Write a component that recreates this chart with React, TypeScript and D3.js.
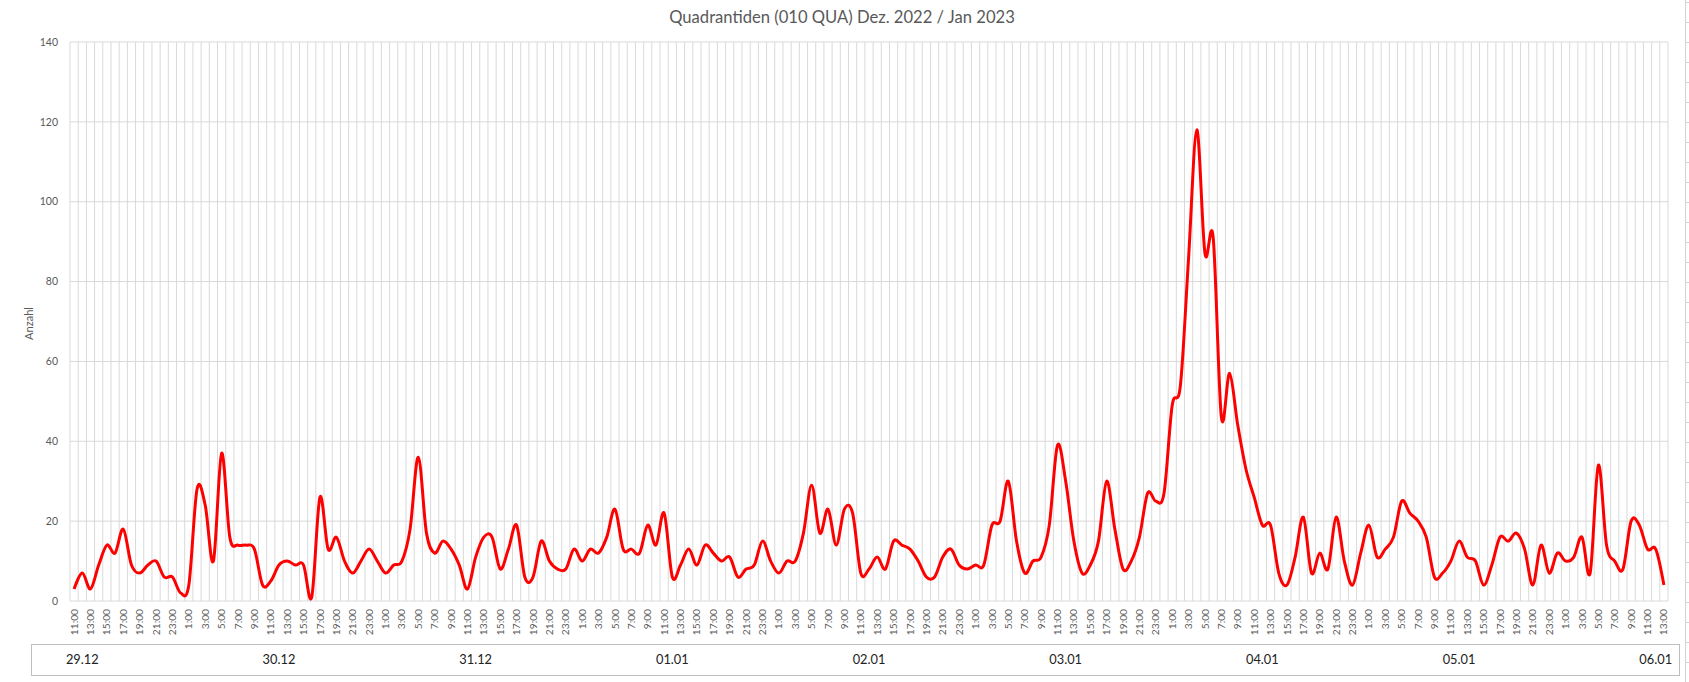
import React from "react";
import * as d3 from "d3";

// ---- data ----
const title = "Quadrantiden (010 QUA) Dez. 2022 / Jan 2023";
const yTitle = "Anzahl";
const startHour = 11; // first category: 29.12 11:00
const dates = ["29.12", "30.12", "31.12", "01.01", "02.01", "03.01", "04.01", "05.01", "06.01"];
const counts = [
  3, 7, 3, 9, 14, 12, 18, 9, 7, 9,
  10, 6, 6, 2, 4, 28, 24, 10, 37, 16,
  14, 14, 13, 4, 5, 9, 10, 9, 9, 1,
  26, 13, 16, 10, 7, 10, 13, 10, 7, 9,
  10, 18, 36, 17, 12, 15, 13, 9, 3, 11,
  16, 16, 8, 13, 19, 6, 6, 15, 10, 8,
  8, 13, 10, 13, 12, 16, 23, 13, 13, 12,
  19, 14, 22, 6, 9, 13, 9, 14, 12, 10,
  11, 6, 8, 9, 15, 10, 7, 10, 10, 17,
  29, 17, 23, 14, 23, 22, 7, 8, 11, 8,
  15, 14, 13, 10, 6, 6, 11, 13, 9, 8,
  9, 9, 19, 20, 30, 15, 7, 10, 11, 19,
  39, 30, 15, 7, 9, 15, 30, 18, 8, 10,
  16, 27, 25, 27, 49, 54, 86, 118, 87, 91,
  46, 57, 44, 33, 26, 19, 19, 7, 4, 11,
  21, 7, 12, 8, 21, 10, 4, 12, 19, 11,
  13, 16, 25, 22, 20, 16, 6, 7, 10, 15,
  11, 10, 4, 9, 16, 15, 17, 13, 4, 14,
  7, 12, 10, 11, 16, 7, 34, 14, 10, 8,
  20, 19, 13, 13, 4,
];
const yTicks = [0, 20, 40, 60, 80, 100, 120, 140];
const hourLabels = counts.map((_, i) => `${(startHour + i) % 24}:00`);

// ---- layout ----
const W = 1689;
const H = 682;
const plot = { left: 70, right: 1668, top: 42, bottom: 601 };
const FONT = "Lato, 'Open Sans', sans-serif";
const GRID = "#d9d9d9";
const TEXT = "#595959";

export default function App() {
  const n = counts.length;
  const band = d3.scaleBand<number>().domain(d3.range(n)).range([plot.left, plot.right]);
  const step = band.step();
  const xc = (i: number) => (band(i) as number) + step / 2;
  const y = d3.scaleLinear().domain([0, 140]).range([plot.bottom, plot.top]);

  const line = d3
    .line<number>()
    .x((_, i) => xc(i))
    .y((d) => y(d))
    .curve(d3.curveCardinal.tension(0));

  // date label: centred at 12:00 of each day
  const noonIndex = (k: number) => (24 + 12 - startHour) % 24 + 24 * k;

  const rightTicks = d3.range(2, H, 20);

  return (
    <svg
      width={W}
      height={H}
      style={{ position: "absolute", left: 0, top: 0, background: "#fff" }}
      fontFamily={FONT}
    >
      <rect x={0} y={0} width={W} height={H} fill="#fff" />
      {/* vertical grid */}
      {d3.range(n + 1).map((i) => {
        const gx = plot.left + i * step;
        return <line key={"v" + i} x1={gx} x2={gx} y1={plot.top} y2={plot.bottom} stroke={GRID} strokeWidth={1} />;
      })}
      {/* horizontal grid */}
      {yTicks.map((t) => (
        <line key={"h" + t} x1={plot.left} x2={plot.right} y1={y(t)} y2={y(t)} stroke={GRID} strokeWidth={1} />
      ))}
      {/* y tick labels */}
      {yTicks.map((t) => (
        <text key={"yt" + t} x={58} y={y(t)} dy="0.35em" textAnchor="end" fontSize={10.5} fill={TEXT}>
          {t}
        </text>
      ))}
      {/* y title */}
      <text
        transform={`translate(33,${(plot.top + plot.bottom) / 2 + 2}) rotate(-90)`}
        textAnchor="middle"
        fontSize={11}
        fill={TEXT}
      >
        {yTitle}
      </text>
      {/* x tick labels */}
      {hourLabels.map((lab, i) =>
        i % 2 === 0 ? (
          <text
            key={"xt" + i}
            transform={`translate(${xc(i)},609) rotate(-90)`}
            textAnchor="end"
            dy="0.35em"
            fontSize={10.2}
            fill={TEXT}
          >
            {lab}
          </text>
        ) : null
      )}
      {/* series */}
      <path d={line(counts) || ""} fill="none" stroke="#ff0000" strokeWidth={3} strokeLinejoin="round" />
      {/* title */}
      <text x={842} y={23} textAnchor="middle" fontSize={16.6} fill={TEXT}>
        {title}
      </text>
      {/* date box */}
      <rect x={31.5} y={644.5} width={1648} height={31} fill="none" stroke="#bfbfbf" strokeWidth={1} />
      {dates.map((d, k) => (
        <text key={"d" + d} x={xc(noonIndex(k))} y={660} dy="0.35em" textAnchor="middle" fontSize={12.8} fill="#222">
          {d}
        </text>
      ))}
      {/* right sheet edge */}
      <line x1={1685.5} x2={1685.5} y1={0} y2={H} stroke="#d4d4d4" strokeWidth={1} />
      {rightTicks.map((t) => (
        <line key={"r" + t} x1={1685.5} x2={1689} y1={t + 0.5} y2={t + 0.5} stroke="#d4d4d4" strokeWidth={1} />
      ))}
    </svg>
  );
}
